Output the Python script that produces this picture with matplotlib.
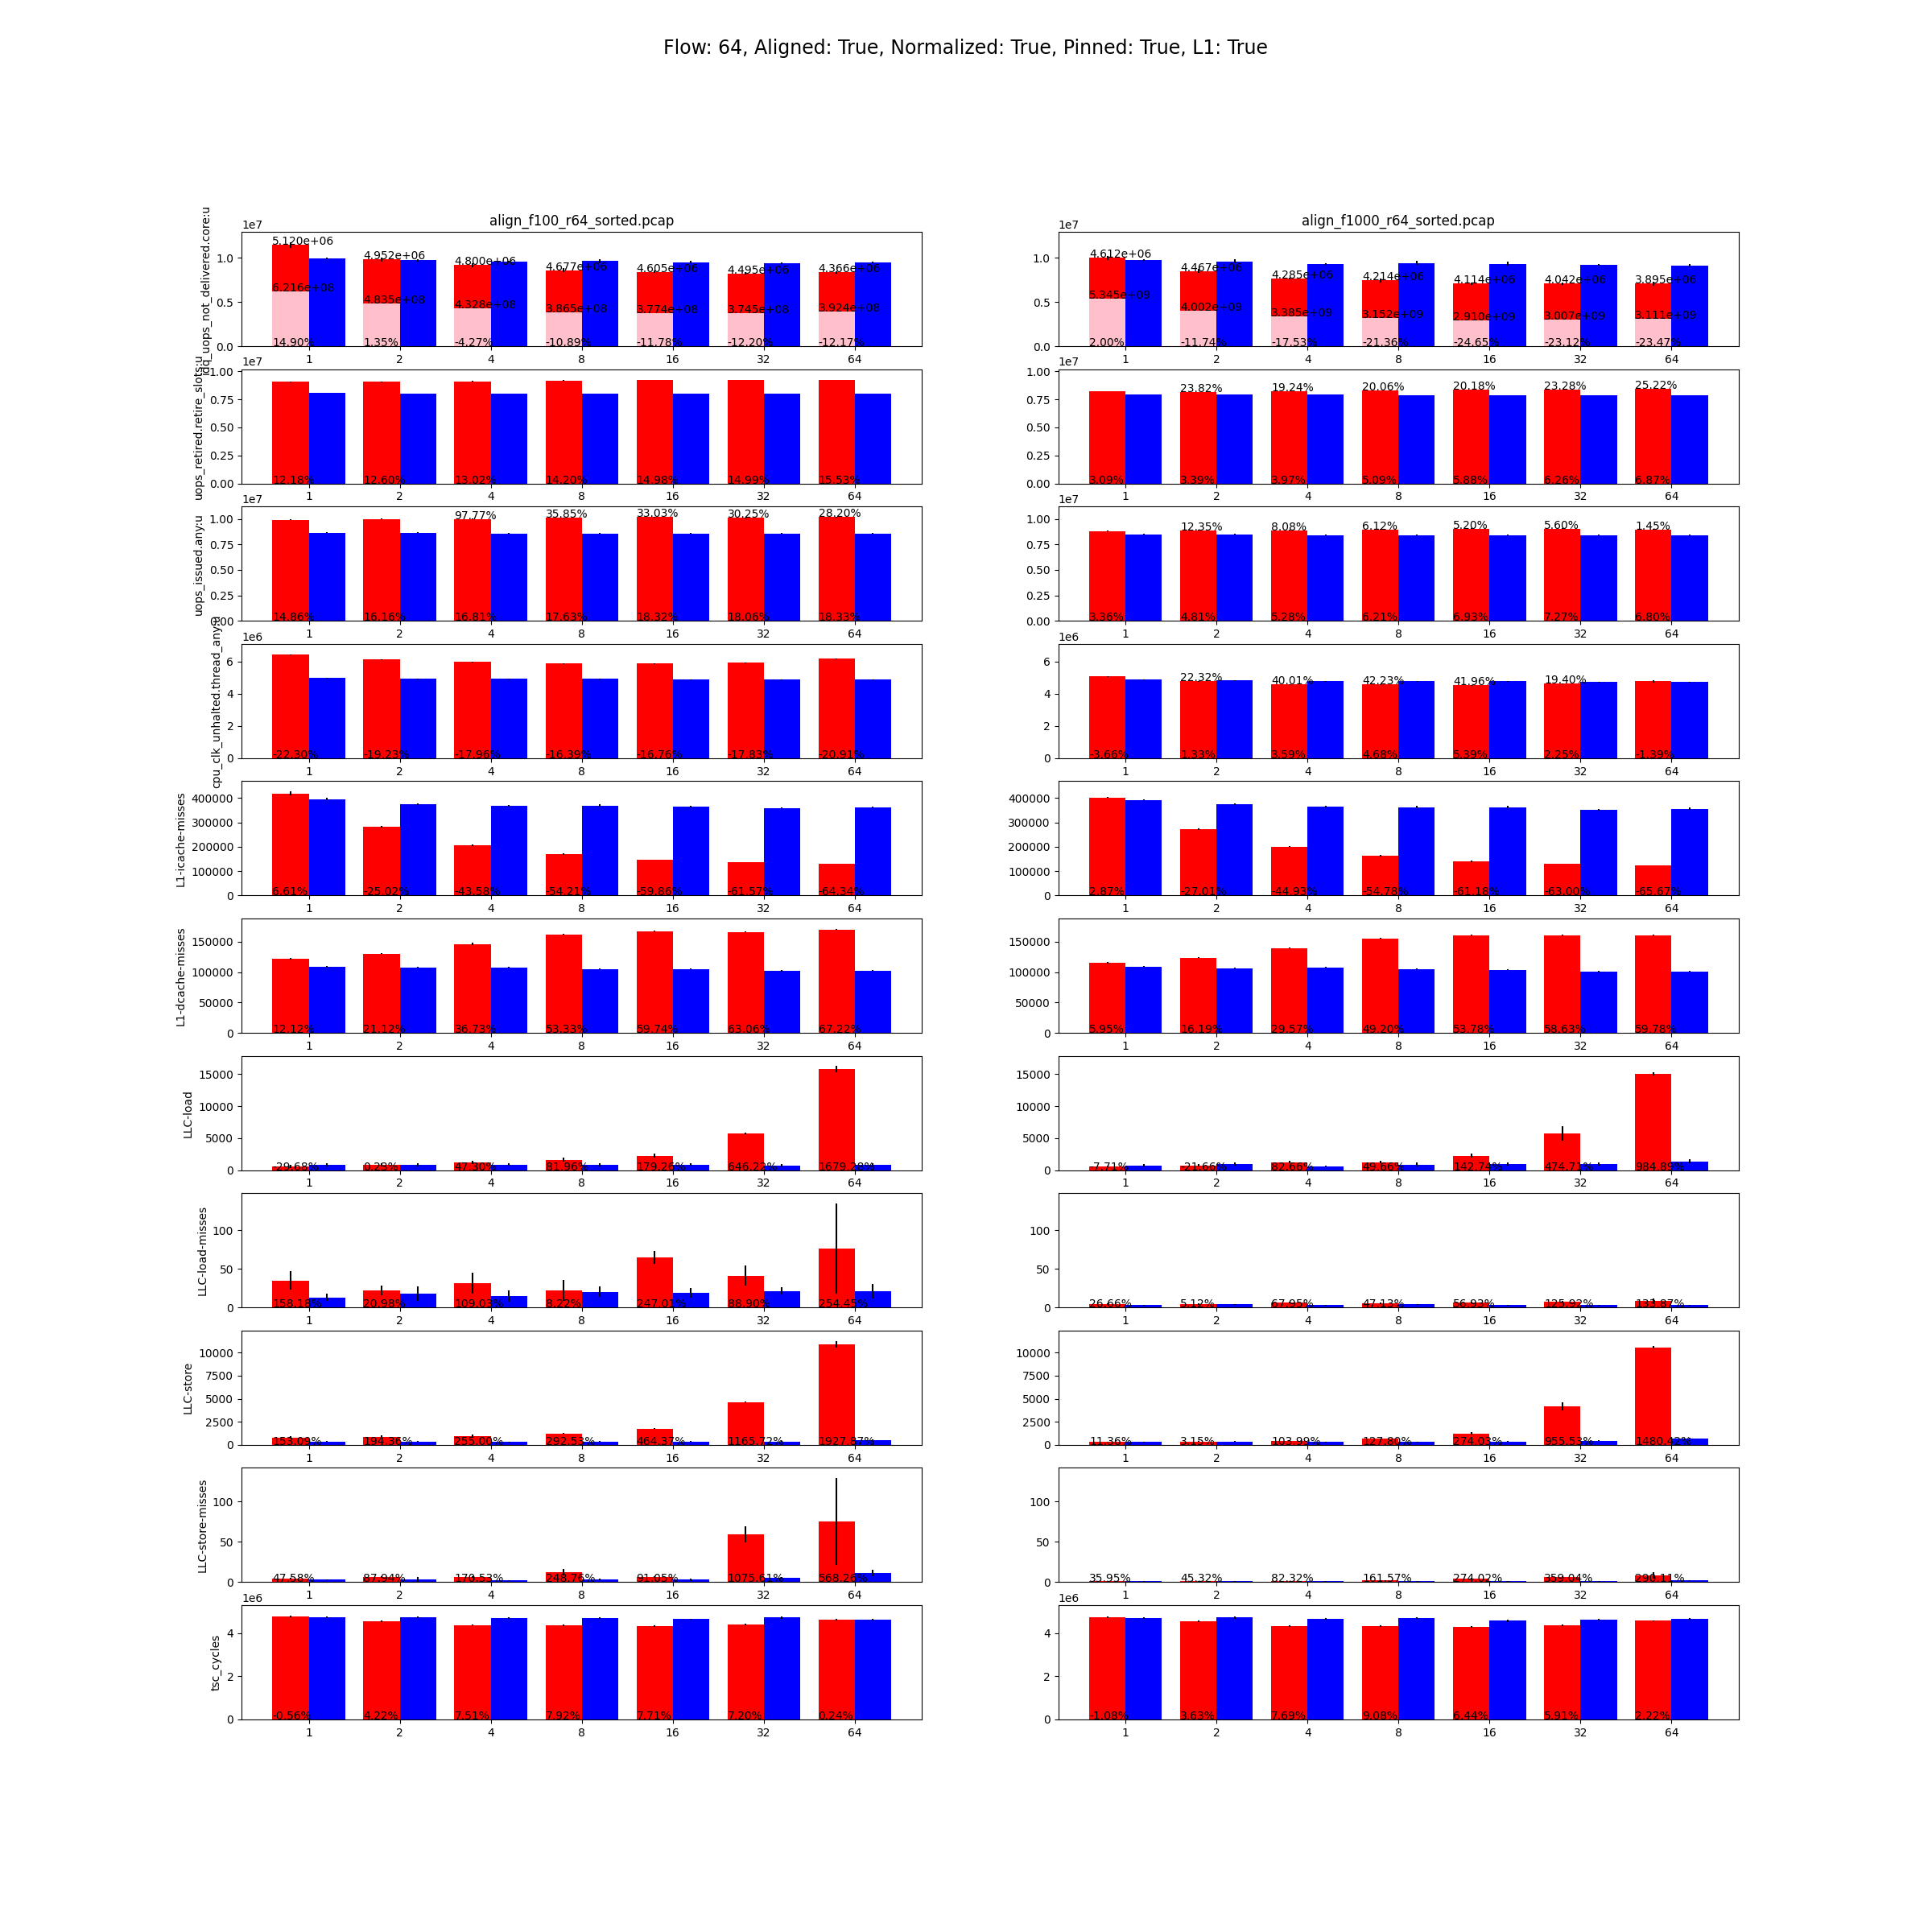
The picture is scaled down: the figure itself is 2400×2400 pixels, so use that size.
import numpy as np
import matplotlib.pyplot as plt

flows = ['1', '2', '4', '8', '16', '32', '64']
files = ['align_f100_r64_sorted.pcap', 'align_f1000_r64_sorted.pcap']
metrics = ['idq_uops_not_delivered.core:u', 'uops_retired.retire_slots:u', 'uops_issued.any:u',
           'cpu_clk_unhalted.thread_any:u', 'L1-icache-misses', 'L1-dcache-misses', 'LLC-load',
           'LLC-load-misses', 'LLC-store', 'LLC-store-misses', 'tsc_cycles']

# f100 file (left column), one row per metric
f100_red = [
    [11.44e6, 9.79e6, 9.16e6, 8.59e6, 8.41e6, 8.23e6, 8.35e6],
    [9.05e6, 9.05e6, 9.10e6, 9.17e6, 9.24e6, 9.24e6, 9.24e6],
    [9.92e6, 10.00e6, 10.00e6, 10.08e6, 10.16e6, 10.08e6, 10.16e6],
    [6.42e6, 6.12e6, 5.97e6, 5.87e6, 5.87e6, 5.92e6, 6.17e6],
    [418800, 282900, 206600, 169100, 147000, 137000, 130400],
    [122600, 130500, 146500, 162400, 167700, 166400, 170400],
    [585, 835, 1253, 1630, 2256, 5765, 15790],
    [34.7, 22.2, 31.6, 22.2, 64.9, 41.0, 76.4],
    [814, 901, 988, 1250, 1773, 4651, 10930],
    [4.0, 6.0, 6.0, 12.0, 6.0, 59.3, 75.3],
    [4.78e6, 4.55e6, 4.38e6, 4.36e6, 4.32e6, 4.40e6, 4.62e6],
]
f100_blue = [
    [9.88e6, 9.70e6, 9.58e6, 9.61e6, 9.49e6, 9.40e6, 9.49e6],
    [8.10e6, 8.02e6, 8.02e6, 8.02e6, 8.02e6, 8.02e6, 8.02e6],
    [8.65e6, 8.65e6, 8.58e6, 8.58e6, 8.58e6, 8.58e6, 8.58e6],
    [4.97e6, 4.92e6, 4.92e6, 4.92e6, 4.87e6, 4.87e6, 4.87e6],
    [395600, 375700, 369100, 369100, 365700, 359100, 362400],
    [109300, 108000, 108000, 105300, 105300, 102700, 102700],
    [877, 877, 877, 877, 877, 752, 877],
    [12.8, 18.1, 14.9, 20.1, 19.1, 21.2, 21.2],
    [378, 378, 291, 378, 378, 378, 552],
    [3.0, 3.0, 2.0, 3.0, 3.0, 5.0, 11.0],
    [4.75e6, 4.74e6, 4.71e6, 4.71e6, 4.65e6, 4.72e6, 4.63e6],
]
f100_red_err = [
    [0.3e6, 0.2e6, 0.2e6, 0.2e6, 0.15e6, 0.15e6, 0.15e6],
    [0.04e6, 0.04e6, 0.02e6, 0.02e6, 0.02e6, 0.02e6, 0.02e6],
    [0.03e6, 0.03e6, 0.03e6, 0.03e6, 0.03e6, 0.03e6, 0.03e6],
    [0.04e6, 0.02e6, 0.03e6, 0.03e6, 0.03e6, 0.02e6, 0.04e6],
    [8000, 4000, 4000, 3000, 1500, 1500, 1000],
    [1500, 1000, 1500, 800, 1000, 1000, 1000],
    [200, 200, 250, 350, 300, 150, 450],
    [12, 6, 13.5, 13.5, 8, 13, 58],
    [100, 100, 150, 80, 80, 80, 350],
    [1, 1, 1, 4, 1, 10, 54],
    [0.04e6, 0.03e6, 0.03e6, 0.03e6, 0.03e6, 0.03e6, 0.03e6],
]
f100_blue_err = [
    [0.1e6, 0.15e6, 0.1e6, 0.2e6, 0.15e6, 0.1e6, 0.1e6],
    [0.01e6] * 7,
    [0.01e6] * 7,
    [0.03e6, 0.04e6, 0.02e6, 0.03e6, 0.02e6, 0.02e6, 0.02e6],
    [4000, 4000, 3000, 5000, 3000, 1500, 2000],
    [1500, 1000, 1000, 800, 800, 1500, 1000],
    [250, 250, 200, 250, 200, 150, 150],
    [4.7, 9.4, 7.3, 6.8, 6.3, 4.7, 9.4],
    [60, 60, 50, 50, 50, 40, 60],
    [0.5, 3, 0.5, 1, 1.5, 1, 4],
    [0.04e6, 0.04e6, 0.04e6, 0.04e6, 0.03e6, 0.04e6, 0.03e6],
]
f100_pct = [
    [14.90, 1.35, -4.27, -10.89, -11.78, -12.20, -12.17],
    [12.18, 12.60, 13.02, 14.20, 14.98, 14.99, 15.53],
    [14.86, 16.16, 16.81, 17.63, 18.32, 18.06, 18.33],
    [-22.30, -19.23, -17.96, -16.39, -16.76, -17.83, -20.91],
    [6.61, -25.02, -43.58, -54.21, -59.86, -61.57, -64.34],
    [12.12, 21.12, 36.73, 53.33, 59.74, 63.06, 67.22],
    [-29.68, 0.23, 47.30, 81.96, 179.26, 646.22, 1679.28],
    [158.18, 20.98, 109.03, 8.22, 247.01, 88.90, 254.45],
    [153.09, 194.36, 255.00, 292.53, 464.37, 1165.72, 1927.87],
    [47.58, 87.94, 170.53, 248.76, 91.05, 1075.61, 568.26],
    [-0.56, 4.22, 7.51, 7.92, 7.71, 7.20, 0.24],
]
f100_top = [
    ['5.120e+06', '4.952e+06', '4.800e+06', '4.677e+06', '4.605e+06', '4.495e+06', '4.366e+06'],
    [''] * 7,
    ['', '', '97.77%', '35.85%', '33.03%', '30.25%', '28.20%'],
] + [[''] * 7] * 8
f100_pink = [6.216e6, 4.835e6, 4.328e6, 3.865e6, 3.774e6, 3.745e6, 3.924e6]
f100_pink_lbl = ['6.216e+08', '4.835e+08', '4.328e+08', '3.865e+08', '3.774e+08', '3.745e+08', '3.924e+08']

# f1000 file (right column)
f1000_red = [
    [9.97e6, 8.50e6, 7.66e6, 7.42e6, 7.06e6, 7.06e6, 7.06e6],
    [8.24e6, 8.17e6, 8.24e6, 8.31e6, 8.38e6, 8.38e6, 8.45e6],
    [8.81e6, 8.89e6, 8.89e6, 8.97e6, 9.05e6, 9.05e6, 8.97e6],
    [5.07e6, 4.77e6, 4.57e6, 4.57e6, 4.52e6, 4.62e6, 4.77e6],
    [402200, 272900, 200000, 163500, 140300, 130400, 123800],
    [115900, 123900, 139800, 155800, 161100, 161100, 161100],
    [627, 752, 1253, 1253, 2256, 5765, 15040],
    [4.2, 4.2, 6.3, 5.2, 6.3, 7.6, 8.7],
    [291, 378, 465, 640, 1250, 4215, 10581],
    [1, 1, 1, 2, 4, 6, 8],
    [4.74e6, 4.55e6, 4.33e6, 4.32e6, 4.29e6, 4.37e6, 4.57e6],
]
f1000_blue = [
    [9.76e6, 9.58e6, 9.31e6, 9.40e6, 9.31e6, 9.22e6, 9.13e6],
    [7.95e6, 7.95e6, 7.95e6, 7.88e6, 7.88e6, 7.88e6, 7.88e6],
    [8.50e6, 8.50e6, 8.42e6, 8.42e6, 8.42e6, 8.42e6, 8.42e6],
    [4.87e6, 4.82e6, 4.77e6, 4.77e6, 4.77e6, 4.72e6, 4.72e6],
    [392300, 375700, 365700, 362400, 362400, 352500, 355800],
    [109300, 106600, 108000, 105300, 104000, 101300, 101300],
    [752, 1003, 627, 877, 1003, 1003, 1378],
    [3.1, 4.2, 3.1, 4.2, 3.1, 3.1, 3.1],
    [291, 378, 291, 291, 378, 465, 727],
    [1, 1, 1, 1, 1, 1, 2],
    [4.69e6, 4.72e6, 4.66e6, 4.71e6, 4.57e6, 4.63e6, 4.67e6],
]
f1000_red_err = [
    [0.2e6, 0.2e6, 0.1e6, 0.2e6, 0.1e6, 0.1e6, 0.2e6],
    [0.01e6] * 7,
    [0.01e6] * 7,
    [0.04e6, 0.02e6, 0.02e6, 0.02e6, 0.02e6, 0.02e6, 0.06e6],
    [2000, 3000, 1500, 2500, 2000, 1000, 1000],
    [1500, 1000, 800, 1000, 800, 800, 1000],
    [100, 200, 150, 150, 350, 1150, 200],
    [1, 1, 1, 1, 1, 1, 3],
    [50, 50, 50, 80, 100, 440, 150],
    [0.3, 0.3, 0.3, 0.5, 1, 1, 4],
    [0.04e6, 0.03e6, 0.03e6, 0.03e6, 0.03e6, 0.03e6, 0.03e6],
]
f1000_blue_err = [
    [0.1e6, 0.2e6, 0.1e6, 0.2e6, 0.2e6, 0.1e6, 0.15e6],
    [0.01e6] * 7,
    [0.01e6] * 7,
    [0.03e6, 0.03e6, 0.02e6, 0.03e6, 0.03e6, 0.02e6, 0.03e6],
    [2000, 4000, 4000, 5000, 5000, 3000, 5000],
    [800, 800, 500, 1000, 800, 1500, 1000],
    [200, 250, 100, 300, 250, 250, 350],
    [0.5] * 7,
    [50, 40, 40, 60, 60, 60, 60],
    [0.2, 0.2, 0.2, 0.2, 0.2, 0.2, 0.5],
    [0.04e6, 0.04e6, 0.04e6, 0.04e6, 0.04e6, 0.04e6, 0.04e6],
]
f1000_pct = [
    [2.00, -11.74, -17.53, -21.36, -24.65, -23.12, -23.47],
    [3.09, 3.39, 3.97, 5.09, 5.88, 6.26, 6.87],
    [3.36, 4.81, 5.28, 6.21, 6.93, 7.27, 6.80],
    [-3.66, 1.33, 3.59, 4.68, 5.39, 2.25, -1.39],
    [2.87, -27.01, -44.93, -54.78, -61.18, -63.00, -65.67],
    [5.95, 16.19, 29.57, 49.20, 53.78, 58.63, 59.78],
    [-7.71, -21.66, 82.66, 49.66, 142.74, 474.71, 984.89],
    [26.66, 5.12, 67.95, 47.13, 56.93, 125.92, 133.87],
    [11.36, 3.15, 103.99, 127.80, 274.03, 955.53, 1480.42],
    [35.95, 45.32, 82.32, 161.57, 274.02, 359.04, 290.11],
    [-1.08, 3.63, 7.69, 9.08, 6.44, 5.91, 2.22],
]
f1000_top = [
    ['4.612e+06', '4.467e+06', '4.285e+06', '4.214e+06', '4.114e+06', '4.042e+06', '3.895e+06'],
    ['', '23.82%', '19.24%', '20.06%', '20.18%', '23.28%', '25.22%'],
    ['', '12.35%', '8.08%', '6.12%', '5.20%', '5.60%', '1.45%'],
    ['', '22.32%', '40.01%', '42.23%', '41.96%', '19.40%', ''],
] + [[''] * 7] * 7
f1000_pink = [5.345e6, 4.002e6, 3.385e6, 3.152e6, 2.910e6, 3.007e6, 3.111e6]
f1000_pink_lbl = ['5.345e+09', '4.002e+09', '3.385e+09', '3.152e+09', '2.910e+09', '3.007e+09', '3.111e+09']

cols = [
    (f100_red, f100_blue, f100_red_err, f100_blue_err, f100_pct, f100_top, f100_pink, f100_pink_lbl),
    (f1000_red, f1000_blue, f1000_red_err, f1000_blue_err, f1000_pct, f1000_top, f1000_pink, f1000_pink_lbl),
]

x = np.arange(len(flows))
fig, axes = plt.subplots(len(metrics), 2, figsize=(24, 24))

for r, metric in enumerate(metrics):
    # shared y range for the row: 10% above the highest error bar
    ymax = max(max(np.array(c[0][r]) + np.array(c[2][r])) for c in cols)
    ymax = max(ymax, max(max(np.array(c[1][r]) + np.array(c[3][r])) for c in cols))
    for c, (red, blue, red_err, blue_err, pct, top, pink, pink_lbl) in enumerate(cols):
        ax = axes[r, c]
        ax.bar(x - 0.2, red[r], 0.4, yerr=red_err[r], color='red')
        if r == 0:
            ax.bar(x - 0.2, pink, 0.4, color='pink')
        ax.bar(x + 0.2, blue[r], 0.4, yerr=blue_err[r], color='blue')
        for i in range(len(flows)):
            ax.text(x[i] - 0.4, 0, f'{pct[r][i]:.2f}%')
            if top[r][i]:
                ax.text(x[i] - 0.4, red[r][i], top[r][i])
            if r == 0:
                ax.text(x[i] - 0.4, pink[i], pink_lbl[i])
        ax.set_xticks(x)
        ax.set_xticklabels(flows)
        ax.set_ylim(0, ymax * 1.1)
        if r == 0:
            ax.set_title(files[c])
        if c == 0:
            ax.set_ylabel(metric)

fig.suptitle('Flow: 64, Aligned: True, Normalized: True, Pinned: True, L1: True', fontsize=17)
plt.savefig('out.png')
